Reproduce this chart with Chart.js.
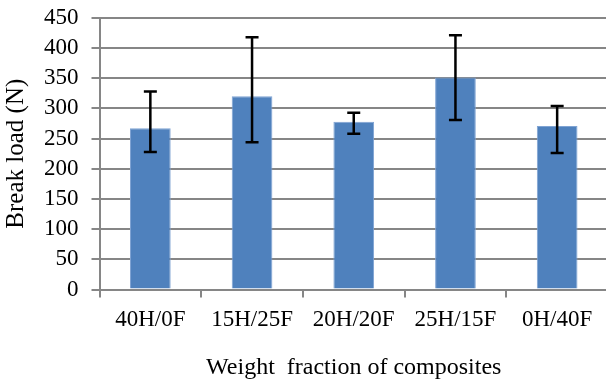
<!DOCTYPE html>
<html>
<head>
<meta charset="utf-8">
<script src="https://cdn.jsdelivr.net/npm/chart.js@4/dist/chart.umd.min.js"></script>
<style>
html,body{margin:0;padding:0;background:#fff;overflow:hidden;}
#wrap{width:608px;height:380px;position:relative;overflow:hidden;}
#inner{position:absolute;left:0;top:-9px;width:608px;height:391px;}
</style>
</head>
<body>
<div id="wrap"><div id="inner"><canvas id="c"></canvas></div></div>
<script>
const categories = ["40H/0F", "15H/25F", "20H/20F", "25H/15F", "0H/40F"];
const breakLoad = [267, 320, 278, 351, 271];
const errLow = [228, 244, 258, 281, 226];
const errHigh = [328, 418, 293, 421, 304];
const yTicks = [0, 50, 100, 150, 200, 250, 300, 350, 400, 450];

const errorBars = {
  id: 'errorBars',
  afterDatasetsDraw(chart) {
    const ctx = chart.ctx;
    const meta = chart.getDatasetMeta(0);
    const ys = chart.scales.y;
    ctx.save();
    ctx.strokeStyle = '#000';
    ctx.lineWidth = 2.5;
    meta.data.forEach((bar, i) => {
      const x = bar.x;
      const yl = ys.getPixelForValue(errLow[i]);
      const yh = ys.getPixelForValue(errHigh[i]);
      ctx.beginPath();
      ctx.moveTo(x, yl); ctx.lineTo(x, yh);
      ctx.moveTo(x - 6.5, yl); ctx.lineTo(x + 6.5, yl);
      ctx.moveTo(x - 6.5, yh); ctx.lineTo(x + 6.5, yh);
      ctx.stroke();
    });
    ctx.restore();
  }
};

new Chart(document.getElementById('c'), {
  type: 'bar',
  data: {
    labels: categories,
    datasets: [{
      data: breakLoad,
      backgroundColor: '#4F81BD',
      borderColor: '#7FA3D3',
      borderWidth: 1,
      barPercentage: 0.4,
      categoryPercentage: 1.0
    }]
  },
  options: {
    responsive: true,
    maintainAspectRatio: false,
    animation: false,
    layout: { padding: { top: 0, right: 0, left: 1, bottom: 0 } },
    plugins: { legend: { display: false }, tooltip: { enabled: false } },
    scales: {
      x: {
        grid: { display: true, drawOnChartArea: false, drawTicks: true, tickLength: 8, color: '#868686', lineWidth: 2 },
        border: { display: true, color: '#868686', width: 2 },
        ticks: { color: '#000', font: { family: 'Liberation Serif', size: 23 }, padding: 9, maxRotation: 0, autoSkip: false },
        title: { display: true, text: 'Weight  fraction of composites', color: '#000', font: { family: 'Liberation Serif', size: 24 }, padding: { top: 10, bottom: 0 } }
      },
      y: {
        min: 0, max: 450,
        afterBuildTicks(axis) { axis.ticks = yTicks.map(v => ({ value: v })); },
        grid: { color: '#868686', lineWidth: 2, tickLength: 8 },
        border: { display: true, color: '#868686', width: 2 },
        ticks: { color: '#000', font: { family: 'Liberation Serif', size: 23 }, padding: 13, autoSkip: false },
        title: { display: true, text: 'Break load (N)', color: '#000', font: { family: 'Liberation Serif', size: 25 }, padding: { top: 0, bottom: 0 } }
      }
    }
  },
  plugins: [errorBars]
});
</script>
</body>
</html>
